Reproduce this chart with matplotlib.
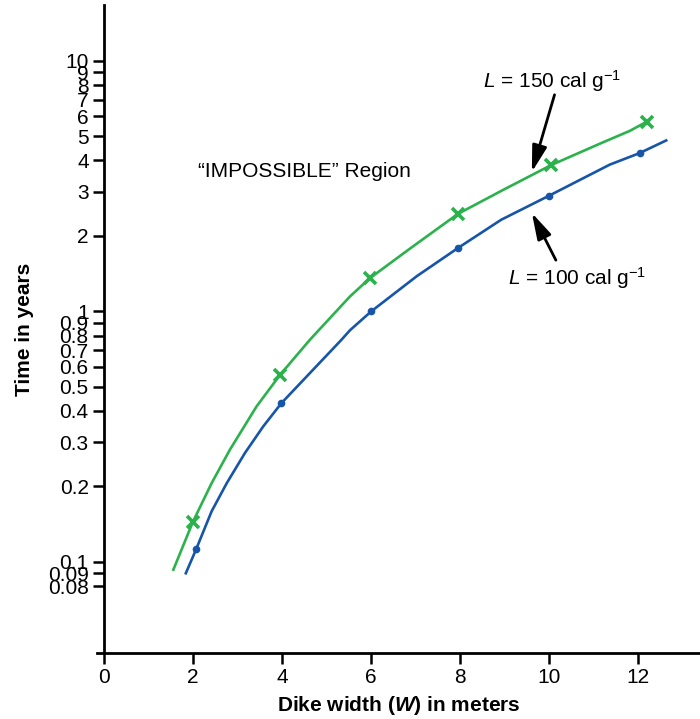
import numpy as np
import matplotlib
matplotlib.use("Agg")
import matplotlib.pyplot as plt

plt.rcParams['font.family'] = ['Liberation Sans', 'DejaVu Sans']
plt.rcParams['mathtext.fontset'] = 'custom'
plt.rcParams['mathtext.rm'] = 'Liberation Sans'
plt.rcParams['mathtext.it'] = 'Liberation Sans:italic'
plt.rcParams['mathtext.bf'] = 'Liberation Sans:bold'
plt.rcParams['mathtext.bfit'] = 'Liberation Sans:italic:bold'

# courbe L = 150 cal/g (points relevés + tracé)
w150_pts = [2.0, 3.96, 5.98, 7.96, 10.06, 12.2]
t150_pts = [0.1445, 0.558, 1.357, 2.45, 3.84, 5.71]
w150_line = [1.56, 2.0, 2.42, 2.83, 3.43, 3.96, 4.63, 5.53, 5.98, 6.88, 7.96, 8.97,
             10.06, 11.21, 11.82, 12.2]
t150_line = [0.093, 0.1445, 0.206, 0.28, 0.417, 0.558, 0.77, 1.146, 1.357, 1.78, 2.45, 3.05,
             3.84, 4.72, 5.25, 5.71]

# courbe L = 100 cal/g
w100_pts = [2.07, 3.99, 6.01, 7.96, 10.0, 12.04]
t100_pts = [0.112, 0.43, 1.0, 1.79, 2.89, 4.28]
w100_line = [1.84, 2.07, 2.42, 2.76, 3.17, 3.58, 3.99, 5.34, 5.53, 6.01, 7.03, 7.96, 8.93,
             10.0, 11.37, 12.04, 12.64]
t100_line = [0.090, 0.112, 0.159, 0.206, 0.272, 0.347, 0.43, 0.77, 0.84, 1.0, 1.38, 1.79, 2.32,
             2.89, 3.85, 4.28, 4.81]

yticks = [10, 9, 8, 7, 6, 5, 4, 3, 2, 1, 0.9, 0.8, 0.7, 0.6, 0.5, 0.4, 0.3, 0.2, 0.1, 0.09, 0.08]
ylabels = ['10', '9', '8', '7', '6', '5', '4', '3', '2', '1', '0.9', '0.8', '0.7', '0.6',
           '0.5', '0.4', '0.3', '0.2', '0.1', '0.09', '0.08']
xticks = [0, 2, 4, 6, 8, 10, 12]

green = '#2bb24c'
blue = '#1655a8'

fig = plt.figure(figsize=(7.0, 7.19), dpi=100)
ax = fig.add_axes([0.139, 0.092, 0.861, 0.901])

ax.plot(w150_line, t150_line, color=green, lw=1.9)
ax.plot(w150_pts, t150_pts, 'x', color=green, ms=8, mew=2.6)
ax.plot(w100_line, t100_line, color=blue, lw=1.9)
ax.plot(w100_pts, t100_pts, 'o', color=blue, ms=4.5)

ax.set_yscale('log')
ax.set_ylim(0.0433, 16.7)
ax.set_xlim(-0.15, 13.4)
ax.set_yticks(yticks)
ax.set_yticklabels(ylabels)
ax.yaxis.set_minor_locator(matplotlib.ticker.NullLocator())
ax.set_xticks(xticks)

ax.spines['top'].set_visible(False)
ax.spines['right'].set_visible(False)
ax.spines['left'].set_position(('data', 0))
for s in ['left', 'bottom']:
    ax.spines[s].set_linewidth(2)
ax.tick_params(axis='both', direction='out', length=8, width=1.8, labelsize=15, pad=3)

ax.set_xlabel(r'Dike width ($\mathbfit{W}$) in meters', fontsize=15, fontweight='bold', labelpad=5)
ax.set_ylabel('Time in years', fontsize=15, fontweight='bold')
ax.yaxis.set_label_coords(-0.105, 0.5)

ax.text(2.11, 3.6, '“IMPOSSIBLE” Region', fontsize=15, va='center', ha='left')
ax.text(8.52, 7.8, r'$\mathit{L}$ = 150 cal g$^{-1}$', fontsize=15, va='baseline', ha='left')
ax.text(9.08, 1.276, r'$\mathit{L}$ = 100 cal g$^{-1}$', fontsize=15, va='baseline', ha='left')

arrow = dict(arrowstyle='-|>,head_length=1.0,head_width=0.28', color='black', lw=2,
             mutation_scale=16, shrinkA=0, shrinkB=0)
ax.annotate('', xy=(9.62, 3.6), xytext=(10.13, 7.32), arrowprops=arrow)
ax.annotate('', xy=(9.62, 2.47), xytext=(10.16, 1.6), arrowprops=arrow)

plt.savefig('out.png', dpi=100)
